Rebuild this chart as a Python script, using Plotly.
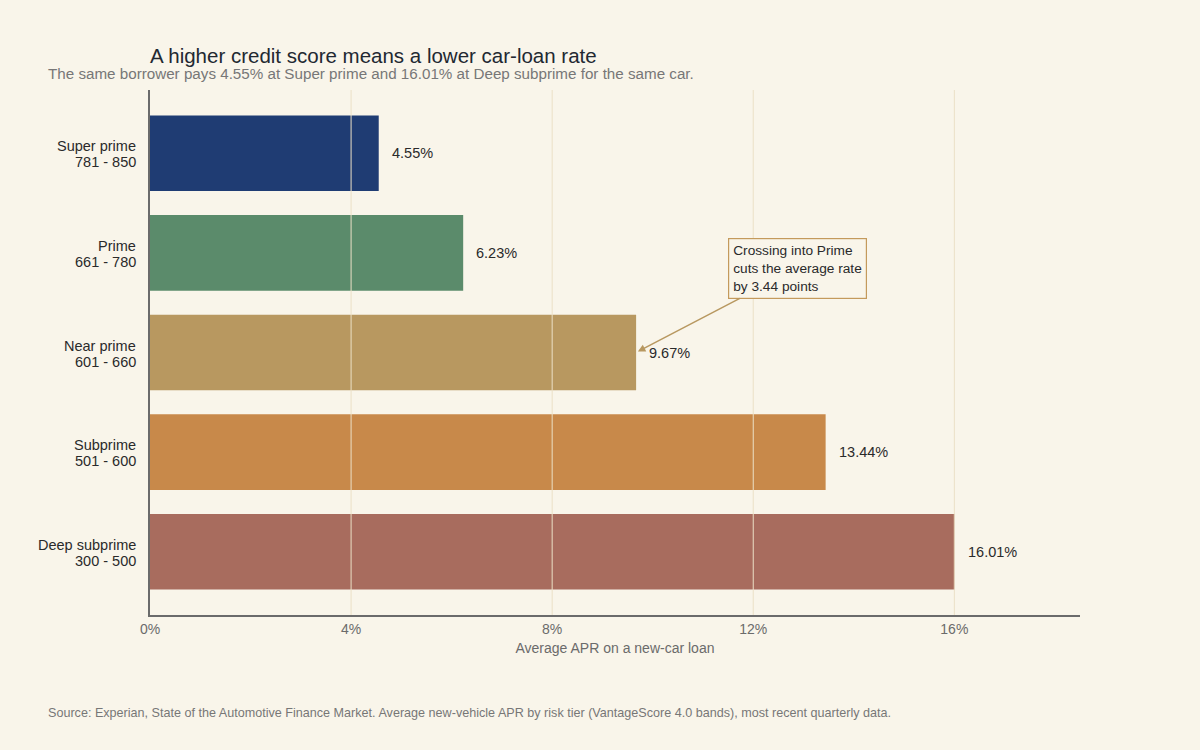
import plotly.graph_objects as go

tiers = ["Super prime", "Prime", "Near prime", "Subprime", "Deep subprime"]
score_bands = ["781 - 850", "661 - 780", "601 - 660", "501 - 600", "300 - 500"]
apr = [4.55, 6.23, 9.67, 13.44, 16.01]
colors = ["#1f3c73", "#5b8b6b", "#b89860", "#c8894a", "#a86c5e"]
tick_vals = [0, 4, 8, 12, 16]
tick_text = ["0%", "4%", "8%", "12%", "16%"]

BG = "#f9f5ea"
FONT = "Liberation Sans, Arial, sans-serif"
GRID = "#ebe0c6"

fig = go.Figure()
fig.add_trace(go.Bar(
    x=apr, y=tiers, orientation="h",
    marker=dict(color=colors, line=dict(width=0)),
    hoverinfo="skip",
))

# gridlines drawn above bars
for tv in tick_vals[1:]:
    fig.add_shape(type="line", xref="x", yref="paper", x0=tv, x1=tv, y0=0, y1=1,
                  line=dict(color=GRID, width=1), layer="above")

# y labels as two-line annotations
for t, b in zip(tiers, score_bands):
    fig.add_annotation(x=0, xref="paper", y=t, yref="y", text=t, showarrow=False,
                       xanchor="right", yanchor="middle", xshift=-12, yshift=7,
                       font=dict(size=14.5, color="#2a2a2a", family=FONT))
    fig.add_annotation(x=0, xref="paper", y=t, yref="y", text=b, showarrow=False,
                       xanchor="right", yanchor="middle", xshift=-12, yshift=-9,
                       font=dict(size=14.5, color="#2a2a2a", family=FONT))

for v, t in zip(apr, tiers):
    fig.add_annotation(x=v, y=t, text=f"{v:.2f}%", showarrow=False,
                       xanchor="left", xshift=11,
                       font=dict(size=14.5, color="#2a2a2a", family=FONT))

fig.add_annotation(
    x=9.67, y=tiers[2], xref="x", yref="y",
    text="Crossing into Prime<br>cuts the average rate<br>by 3.44 points",
    showarrow=True, arrowhead=2, arrowsize=1, arrowwidth=1.5, arrowcolor="#b89860",
    ax=161, ay=-84, align="left",
    bordercolor="#c49a5c", borderwidth=1.2, borderpad=4, bgcolor=BG,
    font=dict(size=13.7, color="#2a2a2a", family=FONT), standoff=2,
)

fig.add_annotation(
    text="A higher credit score means a lower car-loan rate",
    xref="paper", yref="paper", x=-2 / 930, y=1 + 35 / 525, xanchor="left", yanchor="middle",
    showarrow=False, font=dict(size=20.5, color="#222831", family=FONT),
)
fig.add_annotation(
    text="The same borrower pays 4.55% at Super prime and 16.01% at Deep subprime for the same car.",
    xref="paper", yref="paper", x=-104 / 930, y=1 + 16 / 525, xanchor="left", yanchor="middle",
    showarrow=False, font=dict(size=15.2, color="#777777", family=FONT),
)
fig.add_annotation(
    text="Source: Experian, State of the Automotive Finance Market. Average new-vehicle APR by risk tier (VantageScore 4.0 bands), most recent quarterly data.",
    xref="paper", yref="paper", x=-104 / 930, y=-98 / 525, xanchor="left", yanchor="middle",
    showarrow=False, font=dict(size=12.6, color="#777777", family=FONT),
)

fig.update_layout(
    width=1200, height=750,
    paper_bgcolor=BG, plot_bgcolor=BG,
    margin=dict(l=150, r=120, t=90, b=135),
    bargap=0.24,
    showlegend=False,
    font=dict(family=FONT, color="#2a2a2a"),
    xaxis=dict(
        range=[0, 18.5], tickvals=tick_vals, ticktext=tick_text,
        showgrid=False, zeroline=False, showline=True, linecolor="#6b6b6b", linewidth=1.5,
        tickfont=dict(size=14, color="#6b6b6b"),
        title=dict(text="Average APR on a new-car loan", font=dict(size=14, color="#6b6b6b"), standoff=8),
        ticks="",
    ),
    yaxis=dict(
        autorange=False, range=[4.635, -0.635],
        showgrid=False, showline=True, linecolor="#6b6b6b", linewidth=1.5,
        showticklabels=False, ticks="",
    ),
)

fig.write_html("out.html")
